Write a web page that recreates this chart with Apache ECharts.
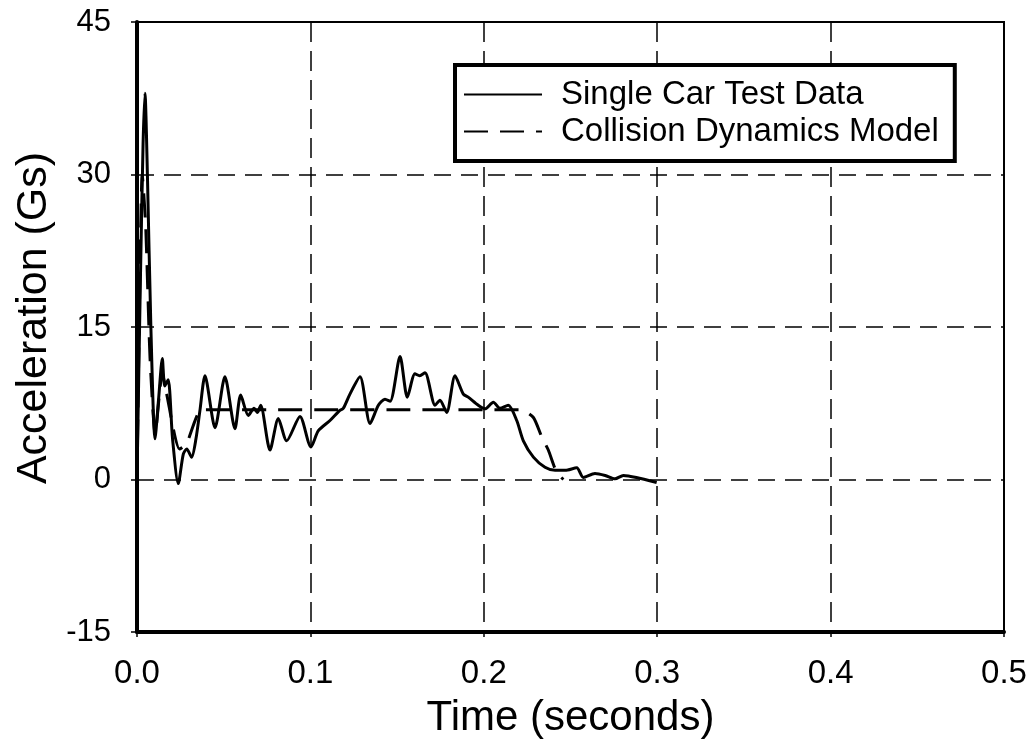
<!DOCTYPE html>
<html>
<head>
<meta charset="utf-8">
<script src="https://cdn.jsdelivr.net/npm/echarts@6/dist/echarts.min.js"></script>
<style>
html,body{margin:0;padding:0;background:#fff;}
#chart{width:1032px;height:747px;}
</style>
</head>
<body>
<div id="chart"></div>
<script>
// Single Car Test Data: [time (s), acceleration (Gs)]
const testData = [
  [0,0],[0.002,20],[0.0035,33],[0.0046,38],[0.006,30],[0.008,15],[0.0104,4.0],[0.0125,8],
  [0.0146,11.9],[0.016,9.2],[0.018,9.8],[0.0205,4],[0.0238,-0.4],[0.0267,2.5],[0.0287,3.0],
  [0.0315,2.2],[0.034,4],[0.0363,6.8],[0.0392,10.2],[0.045,5.1],[0.0507,10.1],[0.0565,5.0],
  [0.0598,8.3],[0.0642,6.3],[0.0675,7.0],[0.0695,6.6],[0.0713,7.3],[0.0767,2.9],[0.0815,6.0],
  [0.0863,3.8],[0.094,6.2],[0.1003,3.2],[0.1046,4.8],[0.1113,5.8],[0.117,6.8],[0.119,7.0],
  [0.1228,8.4],[0.1286,10.1],[0.1344,5.5],[0.1392,7.3],[0.143,7.9],[0.146,7.7],[0.1517,12.1],
  [0.1559,8.1],[0.1603,10.4],[0.163,10.2],[0.1661,10.5],[0.1719,7.3],[0.1747,7.8],[0.1786,6.6],
  [0.1834,10.2],[0.1882,8.4],[0.191,8.1],[0.1968,7.3],[0.2007,6.95],[0.2055,7.6],[0.2093,7.0],
  [0.2141,7.3],[0.219,5.8],[0.2228,3.8],[0.2286,2.2],[0.2353,1.2],[0.2411,0.9],[0.247,0.9],
  [0.2536,1.15],[0.2574,0.2],[0.2641,0.6],[0.27,0.4],[0.2757,0.07],[0.2805,0.4],[0.288,0.2],
  [0.2997,-0.3]
];
// Collision Dynamics Model: [time (s), acceleration (Gs)]
const modelData = [
  [0,0],[0.0015,18],[0.003,30],[0.005,25],[0.0075,12],[0.0105,4.5],[0.0146,10.5],[0.017,8.5],
  [0.0245,3.0],[0.0285,3.5],[0.0335,5.8],[0.037,6.85],[0.2215,6.85],[0.2286,6.1],[0.2334,4.2],
  [0.2372,2.9],[0.242,0.7],[0.2459,0.0]
];
const seriesNames = ['Single Car Test Data', 'Collision Dynamics Model'];
const xTicks = {min: 0, max: 0.5, interval: 0.1};
const yTicks = {min: -15, max: 45, interval: 15};

const FONT = "'Liberation Sans', Arial, sans-serif";
const chart = echarts.init(document.getElementById('chart'), null, {renderer: 'canvas'});
chart.setOption({
  backgroundColor: '#fff',
  animation: false,
  grid: {left: 137, right: 28, top: 22, bottom: 115, show: true, borderColor: '#000', borderWidth: 2},
  legend: {
    left: 455, top: 65, orient: 'vertical',
    backgroundColor: '#fff',
    borderColor: '#000', borderWidth: 4,
    padding: [12, 16, 12, 8],
    itemGap: 2,
    itemWidth: 78, itemHeight: 14,
    itemStyle: {opacity: 0},
    textStyle: {fontFamily: FONT, fontSize: 33, color: '#000', padding: [0, 0, 0, 14], lineHeight: 35},
    data: seriesNames
  },
  xAxis: {
    type: 'value', min: xTicks.min, max: xTicks.max, interval: xTicks.interval,
    name: 'Time (seconds)', nameLocation: 'middle', nameGap: 65,
    nameTextStyle: {fontFamily: FONT, fontSize: 42, color: '#000'},
    axisLine: {onZero: false, lineStyle: {color: '#000', width: 4}},
    axisTick: {show: true, inside: false, length: 5, lineStyle: {color: '#000', width: 1.5}},
    axisLabel: {fontFamily: FONT, fontSize: 33, color: '#000', margin: 25,
      formatter: v => v.toFixed(1)},
    splitLine: {show: true, lineStyle: {color: '#000', width: 1.5, type: [20, 9]}}
  },
  yAxis: {
    type: 'value', min: yTicks.min, max: yTicks.max, interval: yTicks.interval,
    name: 'Acceleration (Gs)', nameLocation: 'middle', nameGap: 76,
    nameTextStyle: {fontFamily: FONT, fontSize: 43, color: '#000', padding: [0, 0, 0, 18]},
    axisLine: {onZero: false, lineStyle: {color: '#000', width: 4}},
    axisTick: {show: true, inside: false, length: 6, lineStyle: {color: '#000', width: 1.5}},
    axisLabel: {fontFamily: FONT, fontSize: 31, color: '#000', margin: 26},
    splitLine: {show: true, lineStyle: {color: '#000', width: 1.5, type: [17, 10]}}
  },
  series: [
    {
      name: seriesNames[0], type: 'line', data: testData, symbol: 'none',
      smooth: 0.25, z: 3,
      lineStyle: {color: '#000', width: 3}, itemStyle: {color: '#000'}
    },
    {
      name: seriesNames[1], type: 'line', data: modelData, symbol: 'none',
      smooth: 0.2, z: 2,
      lineStyle: {color: '#000', width: 3, type: [24, 12]}, itemStyle: {color: '#000'}
    }
  ]
});
</script>
</body>
</html>
